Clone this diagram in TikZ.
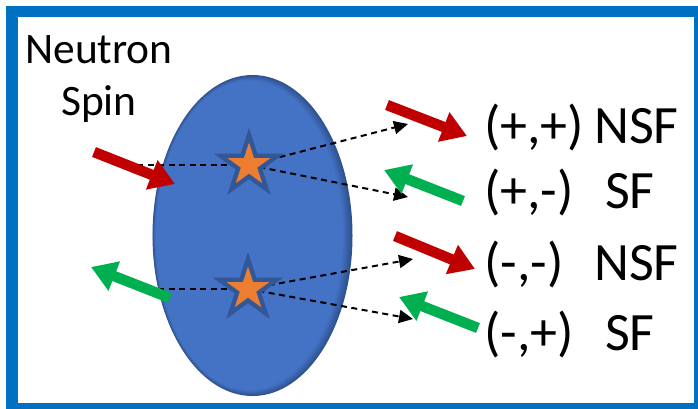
\documentclass[tikz,border=0pt]{standalone}
\usepackage{fontspec}
\setmainfont{Carlito}
\usetikzlibrary{shapes.geometric,arrows.meta}
\definecolor{frameblue}{HTML}{0070C0}
\definecolor{ellblue}{HTML}{4472C4}
\definecolor{rimblue}{HTML}{2F528F}
\definecolor{starorange}{HTML}{ED7D31}
\definecolor{spinred}{HTML}{C00000}
\definecolor{spingreen}{HTML}{00B050}
\pgfdeclarelayer{bg}
\pgfdeclarelayer{mid}
\pgfsetlayers{bg,mid,main}
\begin{document}
\begin{tikzpicture}[x=1bp,y=-1bp,
  spinarrow/.style={line width=10.5bp,-{Triangle[length=25bp,width=30bp]}},
  dashline/.style={dash pattern=on 6bp off 4.5bp,line width=2bp,black},
  scat/.style={dashline,-{Triangle[length=14bp,width=13bp]}},
  site/.style={star,star points=5,star point ratio=2.618,minimum size=45bp,inner sep=0pt,
    fill=starorange,preaction={draw=rimblue!85!ellblue,line width=9bp,miter limit=10}},
  lbl/.style={font=\fontsize{54bp}{64bp}\selectfont,anchor=base west,inner sep=0pt},
  title/.style={font=\fontsize{43.5bp}{52bp}\selectfont,align=center,anchor=north,inner sep=0pt}]
\clip (0,0) rectangle (698,408);
\useasboundingbox (0,0) rectangle (698,408);
% sample ellipse with darker rim
\begin{pgfonlayer}{bg}
\fill[white] (0,0) rectangle (698,408);
\foreach \i/\c in {0/0,1/15,2/30,3/45,4/60,5/75,6/88,7/100}{
  \fill[ellblue!\c!rimblue] (252.5-0.45*\i,235.5) ellipse [x radius=100-0.9*\i, y radius=160.5-0.8*\i];
}
\end{pgfonlayer}
% frame
\draw[frameblue,line width=11.5bp] (12,11.5) rectangle (699.5,408.5);
% title
\node[title] (spin) at (99,35) {Neutron\\Spin};
% scattering sites
\node[site] (s1) at (249,165) {};
\node[site] (s2) at (248,289) {};
% free ends
\coordinate (in1) at (137,165);
\coordinate (in2) at (158,289);
\coordinate (o1) at (408,124);
\coordinate (o2) at (408,197);
\coordinate (o3) at (413,259);
\coordinate (o4) at (413,319);
\begin{pgfonlayer}{mid}
\draw[dashline] (in1) -- (s1.center);
\draw[dashline] (in2) -- (s2.center);
\draw[scat] (s1.center) -- (o1);
\draw[scat] (s1.center) -- (o2);
\draw[scat] (s2.center) -- (o3);
\draw[scat] (s2.center) -- (o4);
\end{pgfonlayer}
% spin arrows
\coordinate (a1s) at (94,152); \coordinate (a1e) at (175,184);
\coordinate (a2s) at (170,298); \coordinate (a2e) at (91,267);
\coordinate (r1s) at (387,105); \coordinate (r1e) at (467,136);
\coordinate (g1s) at (463,201); \coordinate (g1e) at (384,170);
\coordinate (r2s) at (395,236); \coordinate (r2e) at (475,269);
\coordinate (g2s) at (478,328); \coordinate (g2e) at (399,297);
\draw[spinarrow,spinred] (a1s) -- (a1e);
\draw[spinarrow,spingreen] (a2s) -- (a2e);
\draw[spinarrow,spinred] (r1s) -- (r1e);
\draw[spinarrow,spingreen] (g1s) -- (g1e);
\draw[spinarrow,spinred] (r2s) -- (r2e);
\draw[spinarrow,spingreen] (g2s) -- (g2e);
% labels
\node[lbl] (p1) at (484,143) {(+,+)};
\node[lbl] (n1) at (594,143) {NSF};
\node[lbl] (p2) at (484,208) {(+,-)};
\node[lbl] (n2) at (605,208) {SF};
\node[lbl] (p3) at (484,280) {(-,-)};
\node[lbl] (n3) at (594,280) {NSF};
\node[lbl] (p4) at (484,350) {(-,+)};
\node[lbl] (n4) at (605,350) {SF};
\end{tikzpicture}
\end{document}
